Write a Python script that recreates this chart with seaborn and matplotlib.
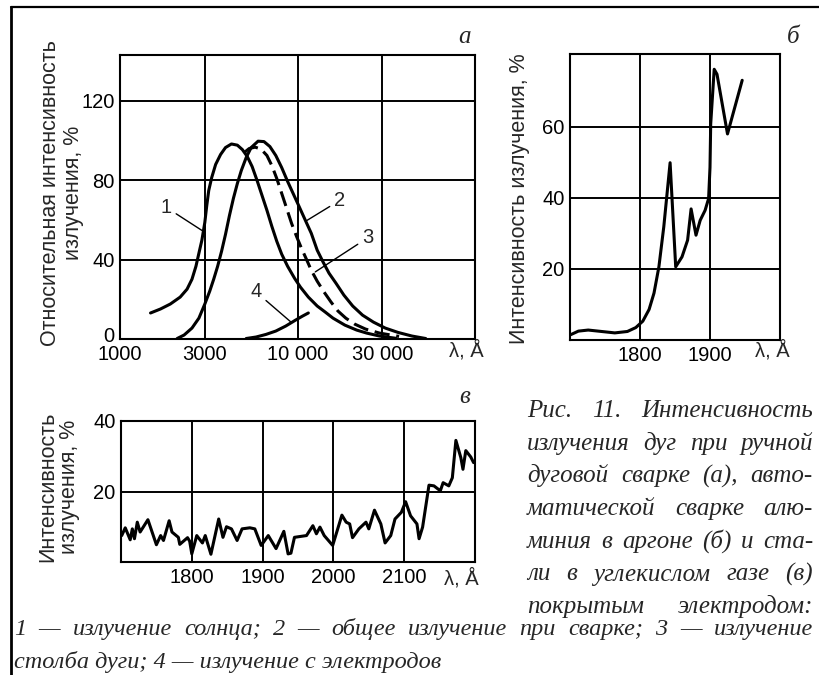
import matplotlib
matplotlib.use("Agg")
import matplotlib.pyplot as plt
import matplotlib.ticker as mticker
from matplotlib.lines import Line2D
from matplotlib.transforms import ScaledTranslation
import seaborn as sns

sns.set_theme(style="white")
plt.rcParams['font.family'] = ['Liberation Sans', 'DejaVu Sans']

# --- panel a: relative intensity vs wavelength (log axis) ---
# 1 - sun
sun_wl = [1486, 1690, 1920, 2183, 2387, 2544, 2678, 2783, 2892, 3005, 3083, 3162,
          3286, 3458, 3687, 3930, 4245, 4583, 4887, 5210, 5553, 5920, 6310, 6726,
          7170, 7643, 8148, 8799, 9623, 10390, 11510, 12915, 14310, 15850, 18480,
          21540, 24480, 28920, 35940]
sun_int = [13.1, 15.1, 17.6, 21.1, 25.1, 30.1, 36.6, 43.2, 49.7, 58.7, 67.3, 74.8,
           81.3, 87.9, 92.9, 96.4, 98.2, 97.6, 95.4, 91.9, 86.8, 79.8, 72.3, 64.8,
           56.7, 49.2, 42.7, 36.6, 30.6, 26.1, 21.1, 16.6, 13.6, 10.5, 7.0,
           4.5, 3.0, 1.5, 0.35]
# 2 - total welding radiation
total_wl = [2100, 2297, 2544, 2783, 3005, 3203, 3372, 3548, 3735, 3930, 4137, 4354,
            4583, 4823, 5141, 5482, 5995, 6474, 6990, 7546, 8148, 8799, 9502, 10260,
            11080, 11960, 12915, 13945, 15060, 16470, 18250, 20470, 23260, 26780,
            31220, 36870, 44100, 52750]
total_int = [0.25, 2.0, 5.5, 10.5, 17.6, 24.1, 30.1, 36.6, 44.2, 52.7, 62.2, 70.8,
             78.3, 84.8, 91.4, 96.4, 99.6, 99.4, 96.9, 92.4, 86.3, 79.3, 72.8, 66.3,
             59.7, 53.2, 44.7, 38.7, 33.1, 28.1, 22.1, 16.6, 12.0, 8.5,
             5.5, 3.3, 1.5, 0.25]
# 3 - arc column (dashed)
arc_wl = [5012, 5343, 5770, 6229, 6726, 7170, 7643, 8148, 8686, 9261, 9872, 10525,
          11220, 11960, 12915, 14125, 15450, 16890, 18720, 21000, 24170, 28920, 37350]
arc_int = [93.9, 95.9, 96.6, 95.6, 92.4, 87.3, 80.8, 73.3, 65.8, 58.2, 51.7, 45.7,
           40.2, 34.6, 29.1, 23.6, 18.6, 14.1, 10.5, 7.5, 5.0, 3.0, 1.3]
# 4 - electrodes
elec_wl = [5141, 5843, 6640, 7546, 8577, 9747, 10660, 11510]
elec_int = [0.25, 1.0, 2.3, 4.0, 6.5, 9.5, 11.5, 13.1]

a_xticks = [1000, 3000, 10000, 30000]
a_xlabels = ["1000", "3000", "10 000", "30 000"]
a_yticks = [0, 40, 80, 120]

# curve numbers: label text, label position, point on curve
curve_tags = ["1", "2", "3", "4"]
tag_pos = [(1820, 66.3), (17300, 69.8), (24900, 51), (5840, 23.7)]
tag_target = [(2890, 54.7), (11300, 59.7), (12600, 33.8), (9140, 8.7)]

# --- panel b: aluminium in argon ---
b_wl = [1701, 1712, 1726, 1745, 1764, 1782, 1794, 1804, 1813, 1820, 1827, 1834,
        1843, 1851, 1860, 1868, 1873, 1880, 1886, 1893, 1898, 1900, 1901, 1906,
        1910, 1925, 1946]
b_int = [1.5, 2.5, 2.8, 2.4, 2.0, 2.4, 3.5, 5.3, 8.6, 13.2, 20.6, 31.9,
         49.9, 20.6, 23.4, 28.1, 36.9, 29.5, 33.7, 36.5, 39.8, 48.6, 60.8, 76.2,
         74.8, 58.0, 73.1]
b_xticks = [1800, 1900]
b_yticks = [20, 40, 60]

# --- panel v: steel in CO2 ---
v_wl = [1701, 1706, 1713, 1716, 1719, 1723, 1727, 1738, 1750, 1756, 1760, 1768,
        1772, 1781, 1783, 1794, 1797, 1800, 1807, 1815, 1819, 1827, 1838, 1844,
        1849, 1856, 1864, 1871, 1882, 1889, 1898, 1908, 1919, 1930, 1936, 1940,
        1945, 1962, 1971, 1976, 1981, 1987, 1999, 2012, 2018, 2023, 2027, 2036,
        2046, 2050, 2058, 2067, 2073, 2081, 2087, 2096, 2102, 2109, 2118, 2121,
        2126, 2135, 2142, 2151, 2155, 2163, 2168, 2173, 2180, 2183, 2187, 2194, 2198]
v_int = [7.5, 9.7, 6.3, 9.4, 6.6, 11.3, 8.5, 12.0, 4.9, 7.5, 6.1, 11.7,
         8.5, 7.0, 5.0, 6.9, 5.9, 2.3, 7.5, 5.4, 7.5, 2.2, 12.2, 7.0,
         10.0, 9.4, 6.1, 9.4, 9.7, 9.4, 4.7, 7.5, 3.8, 8.7, 2.3, 2.5,
         7.0, 7.5, 10.3, 8.0, 9.9, 7.5, 4.7, 13.3, 11.3, 10.8, 6.9, 9.4,
         11.3, 9.4, 14.7, 10.8, 5.4, 7.5, 12.2, 14.1, 17.1, 13.1, 10.8, 6.6,
         9.9, 21.8, 21.6, 20.2, 22.5, 21.6, 23.9, 34.5, 29.6, 26.3, 31.6, 29.8, 28.2]
v_xticks = [1800, 1900, 2000, 2100]
v_yticks = [20, 40]

caption_lines = [
    "Рис. 11. Интенсивность",
    "излучения дуг при ручной",
    "дуговой сварке (а), авто-",
    "матической сварке алю-",
    "миния в аргоне (б) и ста-",
    "ли в углекислом газе (в)",
    "покрытым электродом:",
]
legend_lines = [
    "1 — излучение солнца; 2 — общее излучение при сварке; 3 — излучение",
    "столба дуги; 4 — излучение с электродов",
]

W, H = 820, 675
fig = plt.figure(figsize=(W / 100, H / 100), dpi=100)
fig.patch.set_facecolor("white")

TICK_FS = 14.5
YLAB_FS = 15.5
LW = 2.2
serif_it = dict(family=["Liberation Serif", "DejaVu Serif"], style="italic")


def box(l, t, r, b):
    return [l / W, 1 - b / H, (r - l) / W, (b - t) / H]


def fx(x):
    return x / W


def fy(y):
    return 1 - y / H


def style_axes(ax):
    ax.set_facecolor("white")
    for s in ax.spines.values():
        s.set_visible(True)
        s.set_color("black")
        s.set_linewidth(1.5)
    ax.grid(True, which="major", color="black", lw=1.4)
    ax.tick_params(length=0, labelsize=TICK_FS, colors="black", pad=4)
    ax.set_xlabel("")
    ax.set_ylabel("")


# panel a
ax_a = fig.add_axes(box(120, 55, 475, 339))
ax_a.set_xscale("log")
sns.lineplot(x=sun_wl, y=sun_int, ax=ax_a, color="black", lw=LW)
sns.lineplot(x=total_wl, y=total_int, ax=ax_a, color="black", lw=LW)
sns.lineplot(x=arc_wl, y=arc_int, ax=ax_a, color="black", lw=LW,
             linestyle=(0, (5, 2.2)))
sns.lineplot(x=elec_wl, y=elec_int, ax=ax_a, color="black", lw=LW)
ax_a.set_xlim(1000, 100000)
ax_a.set_ylim(0, 143)
ax_a.xaxis.set_major_locator(mticker.FixedLocator(a_xticks))
ax_a.xaxis.set_major_formatter(mticker.FixedFormatter(a_xlabels))
ax_a.xaxis.set_minor_locator(mticker.NullLocator())
ax_a.set_yticks(a_yticks)
style_axes(ax_a)
# lift the "0" label a little so it clears "1000"
zero_lbl = ax_a.yaxis.get_major_ticks()[0].label1
zero_lbl.set_transform(zero_lbl.get_transform()
                       + ScaledTranslation(0, 5 / 100, fig.dpi_scale_trans))
for tag, pos, tgt in zip(curve_tags, tag_pos, tag_target):
    ax_a.annotate(tag, xy=tgt, xytext=pos, ha="center", va="center",
                  fontsize=TICK_FS,
                  arrowprops=dict(arrowstyle="-", color="black", lw=1.0,
                                  shrinkA=1, shrinkB=0))

# panel b
ax_b = fig.add_axes(box(570, 54, 780, 340))
sns.lineplot(x=b_wl, y=b_int, ax=ax_b, color="black", lw=LW)
ax_b.set_xlim(1700, 2000)
ax_b.set_ylim(0, 80.5)
ax_b.set_xticks(b_xticks)
ax_b.set_yticks(b_yticks)
style_axes(ax_b)

# panel v
ax_v = fig.add_axes(box(121, 421, 475, 562))
sns.lineplot(x=v_wl, y=v_int, ax=ax_v, color="black", lw=LW)
ax_v.set_xlim(1700, 2200)
ax_v.set_ylim(0, 40)
ax_v.set_xticks(v_xticks)
ax_v.set_yticks(v_yticks)
style_axes(ax_v)

# wavelength units at the ends of x axes
for x, y in [(466, 350), (772, 350), (461, 578)]:
    fig.text(fx(x), fy(y), "λ, Å", ha="center", va="center", fontsize=TICK_FS)

# y axis titles
fig.text(fx(62), fy(193), "Относительная интенсивность\nизлучения, %",
         rotation=90, ha="center", va="center", fontsize=YLAB_FS, linespacing=1.15)
fig.text(fx(520), fy(199), "Интенсивность излучения, %",
         rotation=90, ha="center", va="center", fontsize=YLAB_FS)
fig.text(fx(59), fy(487), "Интенсивность\nизлучения, %",
         rotation=90, ha="center", va="center", fontsize=YLAB_FS, linespacing=1.05)

# panel letters
fig.text(fx(465), fy(37), "а", ha="center", va="center", fontsize=18, **serif_it)
fig.text(fx(793), fy(37), "б", ha="center", va="center", fontsize=18, **serif_it)
fig.text(fx(465), fy(397), "в", ha="center", va="center", fontsize=18, **serif_it)

# frame
fig.add_artist(Line2D([fx(11), fx(11)], [fy(7), fy(675)], color="black", lw=2))
fig.add_artist(Line2D([fx(11), fx(820)], [fy(7), fy(7)], color="black", lw=1.6))

renderer = fig.canvas.get_renderer()


def justified(line, x0, x1, base, size):
    words = line.split()
    items = [fig.text(0, fy(base), w, ha="left", va="baseline",
                      fontsize=size, **serif_it) for w in words]
    widths = [t.get_window_extent(renderer).width for t in items]
    gap = (x1 - x0 - sum(widths)) / max(len(words) - 1, 1)
    x = x0
    for t, w in zip(items, widths):
        t.set_x(fx(x))
        x += w + gap


for i, line in enumerate(caption_lines):
    justified(line, 527, 813, 417 + 32.7 * i, 18)

justified(legend_lines[0], 14, 813, 635, 17.5)
fig.text(fx(14), fy(668), legend_lines[1], ha="left", va="baseline",
         fontsize=17.5, **serif_it)

fig.savefig("out.png", dpi=100)
